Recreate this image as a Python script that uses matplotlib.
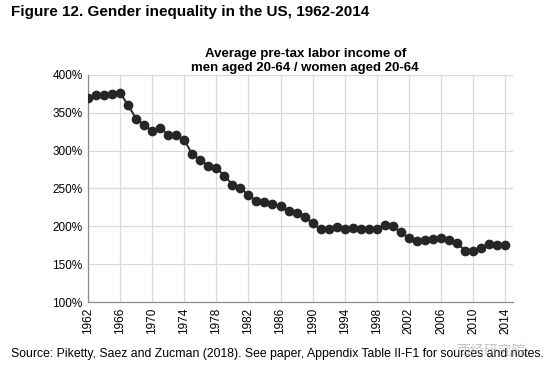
import matplotlib
matplotlib.use("Agg")
import matplotlib.pyplot as plt
import numpy as np

plt.rcParams['font.family'] = ['Liberation Sans', 'Noto Sans CJK SC', 'DejaVu Sans']

# men / women average pre-tax labor income ratio (%)
years = list(range(1962, 2015))
ratio = [370, 373, 374, 375, 376, 360, 342, 334, 326, 330,
         321, 321, 314, 295, 288, 280, 277, 267, 255, 251,
         241, 233, 232, 230, 227, 220, 218, 213, 204, 196,
         196, 199, 197, 198, 196, 196, 196, 202, 200, 192,
         185, 181, 182, 183, 184, 182, 178, 168, 168, 172,
         177, 175, 176]
tick_years = list(range(1962, 2015, 4))
y_ticks = [100, 150, 200, 250, 300, 350, 400]

fig = plt.figure(figsize=(5.5, 3.8), dpi=100)
ax = fig.add_axes([0.16, 0.205, 0.773, 0.598])

ax.plot(years, ratio, color='#262626', lw=1.4, marker='o', ms=6,
        markerfacecolor='#262626', markeredgecolor='#262626', zorder=3)

ax.set_xlim(1962, 2015)
ax.set_ylim(100, 400)
ax.set_xticks(tick_years)
ax.set_xticklabels([str(y) for y in tick_years], rotation=90, fontsize=8.5)
ax.set_yticks(y_ticks)
ax.set_yticklabels(['%d%%' % v for v in y_ticks], fontsize=8.5)
ax.tick_params(axis='both', length=0, pad=4)
ax.grid(True, color='#d9d9d9', lw=0.9)
ax.set_axisbelow(True)
for s in ['top', 'right']:
    ax.spines[s].set_visible(False)
for s in ['left', 'bottom']:
    ax.spines[s].set_color('#8c8c8c')
    ax.spines[s].set_linewidth(0.9)

fig.text(0.02, 0.968, 'Figure 12. Gender inequality in the US, 1962-2014',
         fontsize=11, fontweight='bold', va='center', ha='left')
fig.text(0.555, 0.84, 'Average pre-tax labor income of\nmen aged 20-64 / women aged 20-64',
         fontsize=9.5, fontweight='bold', ha='center', va='center', linespacing=1.25)
fig.text(0.02, 0.068,
         'Source: Piketty, Saez and Zucman (2018). See paper, Appendix Table II-F1 for sources and notes.',
         fontsize=8.8, ha='left', va='center')
fig.text(0.955, 0.078, '西经研究院', fontsize=10, ha='right', va='center',
         color='#a0a0a0', alpha=0.6)

fig.savefig('out.png', dpi=100)
